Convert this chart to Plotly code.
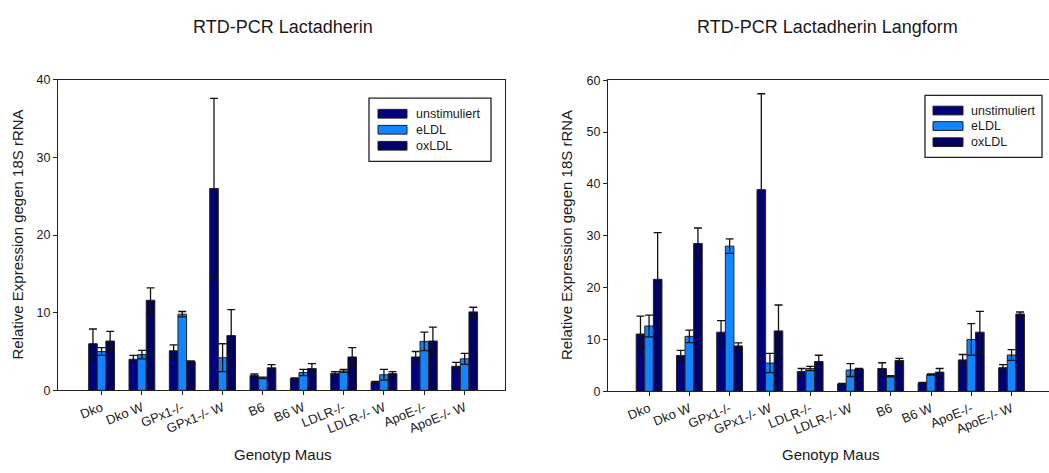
import plotly.graph_objects as go

W, H = 1049, 473

# ---- data -------------------------------------------------------------
series_names = ["unstimuliert", "eLDL", "oxLDL"]
series_colors = ["#00007E", "#1284FF", "#000064"]

categories_left = ["Dko", "Dko W", "GPx1-/-", "GPx1-/- W", "B6", "B6 W",
                   "LDLR-/-", "LDLR-/- W", "ApoE-/-", "ApoE-/- W"]
unstim_left = [6.0, 4.0, 5.1, 26.0, 1.9, 1.5, 2.2, 1.05, 4.3, 3.1]
unstim_left_err = [1.9, 0.5, 0.75, 11.6, 0.2, 0.1, 0.2, 0.1, 0.7, 0.5]
eldl_left = [5.0, 4.6, 9.8, 4.2, 1.6, 2.3, 2.5, 2.0, 6.3, 4.05]
eldl_left_err = [0.5, 0.55, 0.35, 1.8, 0.1, 0.4, 0.2, 0.7, 1.2, 0.7]
oxldl_left = [6.35, 11.6, 3.7, 7.05, 2.9, 2.8, 4.3, 2.15, 6.35, 10.1]
oxldl_left_err = [1.25, 1.6, 0.1, 3.35, 0.4, 0.65, 1.2, 0.25, 1.8, 0.6]

categories_right = ["Dko", "Dko W", "GPx1-/-", "GPx1-/- W", "LDLR-/-", "LDLR-/- W",
                    "B6", "B6 W", "ApoE-/-", "ApoE-/- W"]
unstim_right = [11.05, 6.9, 11.4, 38.9, 3.8, 1.4, 4.4, 1.6, 6.05, 4.55]
unstim_right_err = [3.45, 1.0, 2.25, 18.5, 0.6, 0.12, 1.1, 0.12, 1.05, 0.6]
eldl_right = [12.6, 10.6, 28.0, 5.45, 4.4, 4.1, 2.9, 3.25, 10.0, 7.0]
eldl_right_err = [2.1, 1.2, 1.4, 1.85, 0.4, 1.25, 0.12, 0.12, 3.05, 1.05]
oxldl_right = [21.6, 28.5, 8.75, 11.65, 5.75, 4.3, 5.95, 3.7, 11.4, 14.9]
oxldl_right_err = [9.0, 3.0, 0.6, 5.0, 1.2, 0.12, 0.4, 0.7, 4.0, 0.4]

title_left = "RTD-PCR Lactadherin"
title_right = "RTD-PCR Lactadherin Langform"
x_title = "Genotyp Maus"
y_title = "Relative Expression gegen 18S rRNA"

FONT = "Arial, 'Liberation Sans', sans-serif"
TXT = "#1a1a1a"


def px(x):
    return x / W


def py(y):
    return 1 - y / H


fig = go.Figure()

panels = [
    ("x", "y", categories_left,
     [(unstim_left, unstim_left_err), (eldl_left, eldl_left_err), (oxldl_left, oxldl_left_err)]),
    ("x2", "y2", categories_right,
     [(unstim_right, unstim_right_err), (eldl_right, eldl_right_err), (oxldl_right, oxldl_right_err)]),
]

for xa, ya, cats, series in panels:
    for name, color, (vals, errs) in zip(series_names, series_colors, series):
        fig.add_trace(go.Bar(
            x=cats, y=vals, name=name, xaxis=xa, yaxis=ya,
            marker=dict(color=color, line=dict(color="#222222", width=1)),
            error_y=dict(type="data", array=errs, symmetric=True,
                         color="#111111", thickness=1.3, width=4),
            showlegend=False,
        ))

axis_common = dict(showline=True, linecolor="#222222", linewidth=1,
                   ticks="outside", ticklen=4, tickcolor="#222222",
                   showgrid=False, zeroline=False)

fig.update_layout(
    width=W, height=H,
    margin=dict(l=0, r=0, t=0, b=0),
    paper_bgcolor="white", plot_bgcolor="white",
    barmode="group", bargap=0.36, bargroupgap=0.0,
    font=dict(family=FONT, color=TXT),
    showlegend=False,
    xaxis=dict(domain=[px(58), px(505)], type="category",
               categoryorder="array", categoryarray=categories_left,
               range=[-1.08, 10.0], mirror=True, tickangle=-22,
               tickfont=dict(size=13, family=FONT, color=TXT),
               anchor="y", **axis_common),
    yaxis=dict(domain=[py(395), py(75)], range=[0, 40], dtick=10,
               mirror=True, tickfont=dict(size=12.5, family=FONT, color=TXT),
               anchor="x", **axis_common),
    xaxis2=dict(domain=[px(608), 1.0], type="category",
                categoryorder="array", categoryarray=categories_right,
                range=[-1.02, 9.93], mirror=True, tickangle=-22,
                tickfont=dict(size=13, family=FONT, color=TXT),
                anchor="y2", **axis_common),
    yaxis2=dict(domain=[py(396), py(75.5)], range=[0, 60], dtick=10,
                mirror=False, tickfont=dict(size=12.5, family=FONT, color=TXT),
                anchor="x2", **axis_common),
)

annotations = []
shapes = []

# titles and axis titles
for cx, t in [(282.5, title_left), (827, title_right)]:
    annotations.append(dict(x=px(cx), y=py(21), xref="paper", yref="paper",
                            text=t, showarrow=False, xanchor="center", yanchor="middle",
                            font=dict(size=18, family=FONT, color=TXT)))
for cx in (283, 831):
    annotations.append(dict(x=px(cx), y=py(461), xref="paper", yref="paper",
                            text=x_title, showarrow=False, xanchor="center", yanchor="middle",
                            font=dict(size=15, family=FONT, color=TXT)))
for cx in (17.5, 566):
    annotations.append(dict(x=px(cx), y=py(235), xref="paper", yref="paper",
                            text=y_title, showarrow=False, textangle=-90,
                            xanchor="center", yanchor="middle",
                            font=dict(size=15, family=FONT, color=TXT)))

# boxed legends with wide swatches
legend_boxes = [
    dict(box=(369, 94, 491, 159), sw=(378, 407), text_x=414, rows=(110, 126.5, 143)),
    dict(box=(925, 91, 1042, 155), sw=(933, 963), text_x=969, rows=(106.7, 122.7, 139.3)),
]
for lg in legend_boxes:
    x0, y0, x1, y1 = lg["box"]
    shapes.append(dict(type="rect", xref="paper", yref="paper",
                       x0=px(x0), x1=px(x1), y0=py(y1), y1=py(y0),
                       line=dict(color="#222222", width=1.3), fillcolor="white", layer="above"))
    for name, color, ry in zip(series_names, series_colors, lg["rows"]):
        shapes.append(dict(type="rect", xref="paper", yref="paper",
                           x0=px(lg["sw"][0]), x1=px(lg["sw"][1]),
                           y0=py(ry + 4.5), y1=py(ry - 4.5),
                           line=dict(color="#222222", width=1), fillcolor=color, layer="above"))
        annotations.append(dict(x=px(lg["text_x"]), y=py(ry), xref="paper", yref="paper",
                                text=name, showarrow=False, xanchor="left", yanchor="middle",
                                font=dict(size=12.5, family=FONT, color=TXT)))

fig.update_layout(annotations=annotations, shapes=shapes)

fig.write_html("out.html")
